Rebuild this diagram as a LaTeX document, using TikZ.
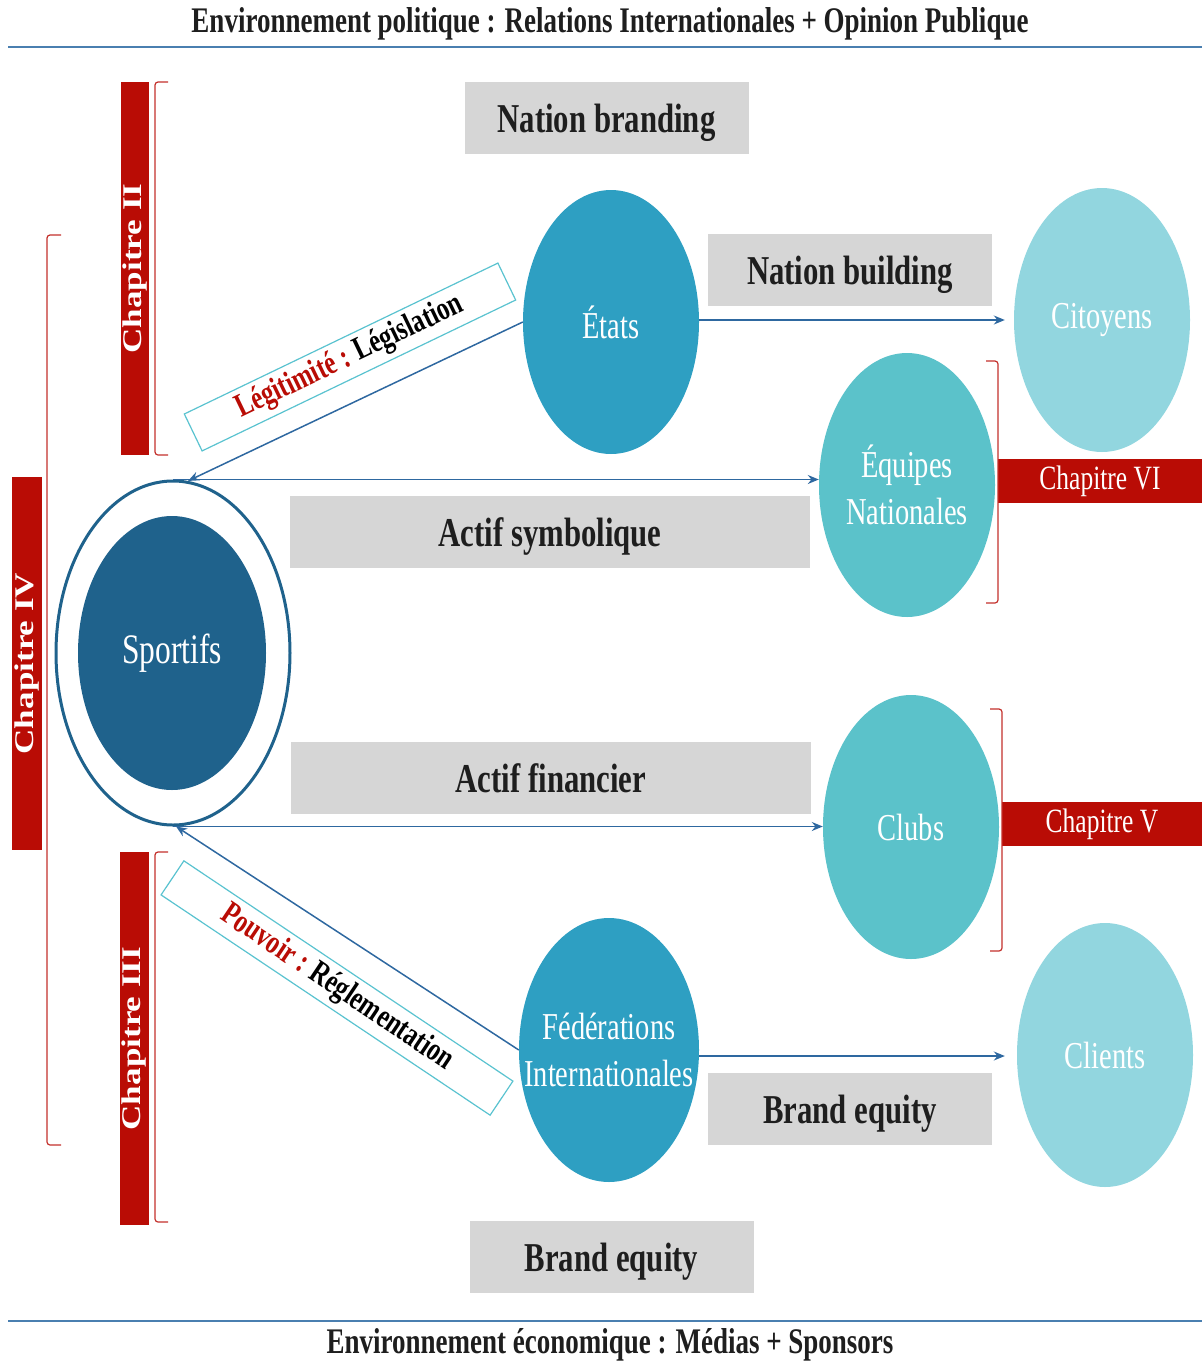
\documentclass[tikz,border=0pt]{standalone}
\usepackage{fontspec}
\setmainfont[FakeStretch=0.75]{Liberation Serif}
\newfontfamily\chapfont[FakeStretch=1.3]{Liberation Serif}
\usetikzlibrary{shapes.geometric}
\usetikzlibrary{arrows.meta}
\definecolor{chapred}{RGB}{185,12,5}
\definecolor{boxgray}{RGB}{214,214,214}
\definecolor{textdark}{RGB}{30,30,30}
\definecolor{sportblue}{RGB}{31,98,140}
\definecolor{statblue}{RGB}{46,159,194}
\definecolor{teal}{RGB}{91,194,202}
\definecolor{lightteal}{RGB}{146,214,223}
\definecolor{flowblue}{RGB}{46,104,160}
\definecolor{ruleblue}{RGB}{74,127,176}
\definecolor{tagteal}{RGB}{90,195,208}

\begin{document}
\begin{tikzpicture}[x=1pt,y=-1pt,
  gbox/.style={fill=boxgray, inner sep=0pt, minimum height=72pt, text height=29pt, text depth=0pt, text=textdark, font=\bfseries\fontsize{41}{41}\selectfont},
  actor/.style={ellipse, inner sep=-40pt, minimum width=176pt, minimum height=264pt, text=white, align=center, font=\fontsize{38}{47}\selectfont},
  flow/.style={draw=flowblue, line width=1.5pt, -{Stealth[length=11pt,width=9pt]}},
  chapv/.style={fill=chapred, text=white, rotate=90, minimum width=373pt, inner sep=0pt, font=\chapfont\bfseries\fontsize{27}{27}\selectfont},
  chaph/.style={fill=chapred, text=white, minimum height=44pt, inner sep=0pt, font=\fontsize{34}{34}\selectfont},
  tag/.style={draw=tagteal, line width=1.2pt, fill=white, minimum height=41pt, inner sep=0pt, font=\bfseries\fontsize{33}{33}\selectfont},
  brack/.style={draw=chapred!85, line width=1.2pt, rounded corners=3pt}]
\useasboundingbox (0,0) rectangle (1202,1366);

% environnements
\draw[ruleblue, line width=2.5pt] (8,47) -- (1202,47);
\draw[ruleblue, line width=2.5pt] (8,1321) -- (1202,1321);
\node[text=textdark, font=\bfseries\fontsize{36}{36}\selectfont] (polit) at (610,24) {Environnement politique : Relations Internationales + Opinion Publique};
\node[text=textdark, font=\bfseries\fontsize{36}{36}\selectfont] (econ) at (610,1345) {Environnement économique : Médias + Sponsors};

% chapitres
\node[chapv, minimum height=28pt] (ch2) at (135,268.5) {Chapitre II};
\node[chapv, minimum height=30pt] (ch4) at (27,663.5) {Chapitre IV};
\node[chapv, minimum height=29pt] (ch3) at (134.5,1038.5) {Chapitre III};
\node[chaph, minimum width=204pt] (ch6) at (1100,481) {Chapitre VI};
\node[chaph, minimum width=200pt] (ch5) at (1102,824) {Chapitre V};
\draw[brack] (168,82) -- (155,82) -- (155,455) -- (168,455);
\draw[brack] (61,235) -- (47,235) -- (47,1145) -- (61,1145);
\draw[brack] (168,852) -- (155,852) -- (155,1222) -- (168,1222);
\draw[brack] (986,361) -- (998,361) -- (998,603) -- (986,603);
\draw[brack] (990,709) -- (1002,709) -- (1002,951) -- (990,951);

% boites grises
\node[gbox, minimum width=284pt] (branding) at (606.5,118) {Nation branding};
\node[gbox, minimum width=284pt] (building) at (850,270) {Nation building};
\node[gbox, minimum width=520pt] (symb) at (550,532) {Actif symbolique};
\node[gbox, minimum width=520pt] (fin) at (551,777.5) {Actif financier};
\node[gbox, minimum width=284pt] (equity1) at (850,1109) {Brand equity};
\node[gbox, minimum width=284pt] (equity2) at (611.5,1257) {Brand equity};

% acteurs
\node[ellipse, draw=sportblue, line width=3pt, fill=white, minimum width=234pt, minimum height=344pt] (ring) at (173,653) {};
\node[actor, fill=sportblue, minimum width=188pt, minimum height=274pt, font=\fontsize{42}{42}\selectfont] (sportifs) at (172,653) {Sportifs};
\node[actor, fill=statblue] (etats) at (611,322) {États};
\node[actor, fill=lightteal] (citoyens) at (1102,320) {Citoyens};
\node[actor, fill=teal] (equipes) at (907,485) {Équipes\\Nationales};
\node[actor, fill=teal] (clubs) at (911,827) {Clubs};
\node[actor, fill=statblue, minimum width=180pt] (fed) at (609,1050) {Fédérations\\Internationales};
\node[actor, fill=lightteal] (clients) at (1105,1055) {Clients};

% relations
\draw[flow, shorten >=9pt] ([yshift=2pt]etats.east) -- ([yshift=2pt]etats.east -| citoyens.west);
\draw[flow] (ring.north) -- (ring.north -| equipes.west);
\draw[flow] (ring.south) -- (ring.south -| clubs.west);
\draw[flow] (etats.west) -- (ring.85);
\draw[flow] (fed.west) -- (ring.271);
\draw[flow, shorten >=12pt] ([yshift=-6pt]fed.east) -- ([yshift=-6pt]fed.east -| clients.west);

\node[tag, rotate=25.7, minimum width=348pt] (legit) at (350,357) {\textcolor{chapred}{Légitimité :} Législation};
\node[tag, rotate=-33.8, minimum width=396pt] (pouv) at (337,988) {\textcolor{chapred}{Pouvoir :} Réglementation};
\end{tikzpicture}
\end{document}
